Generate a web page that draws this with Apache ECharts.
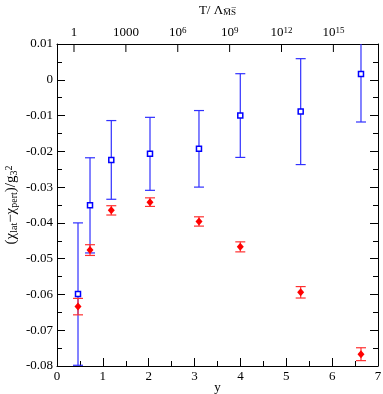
<!DOCTYPE html>
<html>
<head>
<meta charset="utf-8">
<script src="https://cdn.jsdelivr.net/npm/echarts@6/dist/echarts.min.js"></script>
<style>
  html, body { margin: 0; padding: 0; background: #fff; }
  #chart { width: 383px; height: 394px; }
</style>
</head>
<body>
<div id="chart"></div>
<script>
// y positions of the points (bottom axis)
const yPos = [0.458, 0.72, 1.184, 2.028, 3.096, 3.997, 5.314, 6.629];
// blue squares: lattice result and its error
const blueVal = [-0.0599, -0.0351, -0.0224, -0.0207, -0.0193, -0.0100, -0.0089, 0.0016];
const blueErr = [0.0199, 0.0133, 0.0110, 0.0102, 0.0107, 0.0117, 0.0148, 0.0134];
// red diamonds
const redVal = [-0.0634, -0.0476, -0.0365, -0.0342, -0.0396, -0.0467, -0.0594, -0.0767];
const redErr = [0.0023, 0.0015, 0.0013, 0.0012, 0.0013, 0.0014, 0.0016, 0.0018];
// top axis: log10(T/Lambda) ticks
const topTicks = [0, 3, 6, 9, 12, 15];
const topLabels = ['1', '1000', '10{sup|6}', '10{sup|9}', '10{sup|12}', '10{sup|15}'];

const FONT = 'Liberation Serif';
const Y_TOP = 0.01;
const TOP_MIN = -0.983;
const TOP_MAX = 17.58;

const chart = echarts.init(document.getElementById('chart'));

const errRender = (color) => (params, api) => {
    const x = api.value(0);
    const pLo = api.coord([x, api.value(1)]);
    const pHi = api.coord([x, api.value(2)]);
    const w = 5;
    const st = { stroke: color, lineWidth: 1.2 };
    return {
        type: 'group',
        children: [
            { type: 'line', shape: { x1: pLo[0], y1: pLo[1], x2: pHi[0], y2: pHi[1] }, style: st },
            { type: 'line', shape: { x1: pLo[0] - w, y1: pLo[1], x2: pLo[0] + w, y2: pLo[1] }, style: st },
            { type: 'line', shape: { x1: pHi[0] - w, y1: pHi[1], x2: pHi[0] + w, y2: pHi[1] }, style: st },
        ]
    };
};

// top (log) axis tick marks: x from the top axis scale, y at the top of the grid
const topTickRender = (params, api) => {
    const t = topTicks[params.dataIndex];
    const cs = params.coordSys;
    let px = NaN;
    try { px = chart.convertToPixel({ xAxisIndex: 1 }, t); } catch (e) { px = NaN; }
    if (!isFinite(px)) px = cs.x + (t - TOP_MIN) / (TOP_MAX - TOP_MIN) * cs.width;
    return {
        type: 'line',
        shape: { x1: px, y1: cs.y, x2: px, y2: cs.y + 8 },
        style: { stroke: '#000', lineWidth: 1 }
    };
};

const axisLine = { show: true, onZero: false, lineStyle: { color: '#000', width: 1 } };
const labelStyle = { color: '#000', fontFamily: FONT, fontSize: 13 };

const option = {
    animation: false,
    grid: { left: 57, right: 5, top: 44, bottom: 28, containLabel: false, outerBoundsMode: 'none' },
    xAxis: [
        {
            type: 'value', position: 'bottom', min: 0, max: 7, interval: 1,
            axisLine: axisLine,
            axisTick: { inside: true, length: 8, lineStyle: { color: '#000' } },
            minorTick: { show: true, splitNumber: 2, length: 5, lineStyle: { color: '#000' } },
            axisLabel: Object.assign({ margin: 4 }, labelStyle),
            splitLine: { show: false },
            name: 'y', nameLocation: 'middle', nameGap: 15, nameMoveOverlap: false,
            nameTextStyle: labelStyle,
        },
        {
            type: 'value', position: 'top', min: TOP_MIN, max: TOP_MAX,
            axisLine: axisLine,
            axisTick: { show: false },
            axisLabel: Object.assign({
                margin: 5,
                customValues: topTicks,
                formatter: (v) => topLabels[topTicks.indexOf(Math.round(v))] || '',
                rich: { sup: { fontFamily: FONT, fontSize: 9, verticalAlign: 'top', lineHeight: 8, color: '#000' } }
            }, labelStyle),
            splitLine: { show: false },
            name: 'T/ Λ{sub|M̅S̅}', nameLocation: 'middle', nameGap: 27, nameMoveOverlap: false,
            nameTextStyle: Object.assign({
                rich: { sub: { fontFamily: FONT, fontSize: 9, verticalAlign: 'bottom', lineHeight: 10, padding: [6, 0, 0, 0], color: '#000' } }
            }, labelStyle),
        }
    ],
    yAxis: [
        {
            type: 'value', position: 'left', min: -0.08, max: Y_TOP, interval: 0.01,
            axisLine: axisLine,
            axisTick: { inside: true, length: 8, lineStyle: { color: '#000' } },
            minorTick: { show: true, splitNumber: 2, length: 5, lineStyle: { color: '#000' } },
            axisLabel: Object.assign({
                margin: 4,
                formatter: (v) => Math.abs(v) < 1e-9 ? '0' : v.toFixed(2)
            }, labelStyle),
            splitLine: { show: false },
            name: '(χ{sub|lat}−χ{sub|pert})/g{sub|3}{sup|2}',
            nameLocation: 'middle', nameGap: 38, nameRotate: 90, nameMoveOverlap: false,
            nameTextStyle: {
                color: '#000', fontFamily: FONT, fontSize: 15,
                rich: {
                    sub: { fontFamily: FONT, fontSize: 10, verticalAlign: 'bottom', lineHeight: 11, padding: [7, 0, 0, 0], color: '#000' },
                    sup: { fontFamily: FONT, fontSize: 10, verticalAlign: 'top', lineHeight: 9, color: '#000' }
                }
            },
        },
        {
            type: 'value', position: 'right', min: -0.08, max: Y_TOP, interval: 0.01,
            axisLine: axisLine,
            axisTick: { show: true, inside: true, length: 8, lineStyle: { color: '#000' } },
            minorTick: { show: true, splitNumber: 2, length: 5, lineStyle: { color: '#000' } },
            axisLabel: { show: false },
            splitLine: { show: false },
        }
    ],
    series: [
        {
            type: 'custom', clip: false, xAxisIndex: 0, yAxisIndex: 0,
            renderItem: topTickRender,
            encode: { x: 0, y: 1 },
            data: topTicks.map((t, i) => [i, Y_TOP]),
            silent: true,
            z: 5,
        },
        {
            type: 'custom', clip: true, xAxisIndex: 0, yAxisIndex: 0,
            renderItem: errRender('#3030ff'),
            encode: { x: 0, y: [1, 2] },
            data: yPos.map((x, i) => [x, blueVal[i] - blueErr[i], blueVal[i] + blueErr[i]]),
            z: 2,
        },
        {
            type: 'custom', clip: true, xAxisIndex: 0, yAxisIndex: 0,
            renderItem: errRender('#ff3030'),
            encode: { x: 0, y: [1, 2] },
            data: yPos.map((x, i) => [x, redVal[i] - redErr[i], redVal[i] + redErr[i]]),
            z: 2,
        },
        {
            type: 'scatter', xAxisIndex: 0, yAxisIndex: 0,
            symbol: 'rect', symbolSize: 5,
            itemStyle: { color: '#fff', borderColor: '#0000ff', borderWidth: 1.5, opacity: 1 },
            data: yPos.map((x, i) => [x, blueVal[i]]),
            z: 3,
        },
        {
            type: 'scatter', xAxisIndex: 0, yAxisIndex: 0,
            symbol: 'diamond', symbolSize: [7, 8],
            itemStyle: { color: '#ff0000', opacity: 1 },
            data: yPos.map((x, i) => [x, redVal[i]]),
            z: 3,
        }
    ]
};

chart.setOption(option);
</script>
</body>
</html>
